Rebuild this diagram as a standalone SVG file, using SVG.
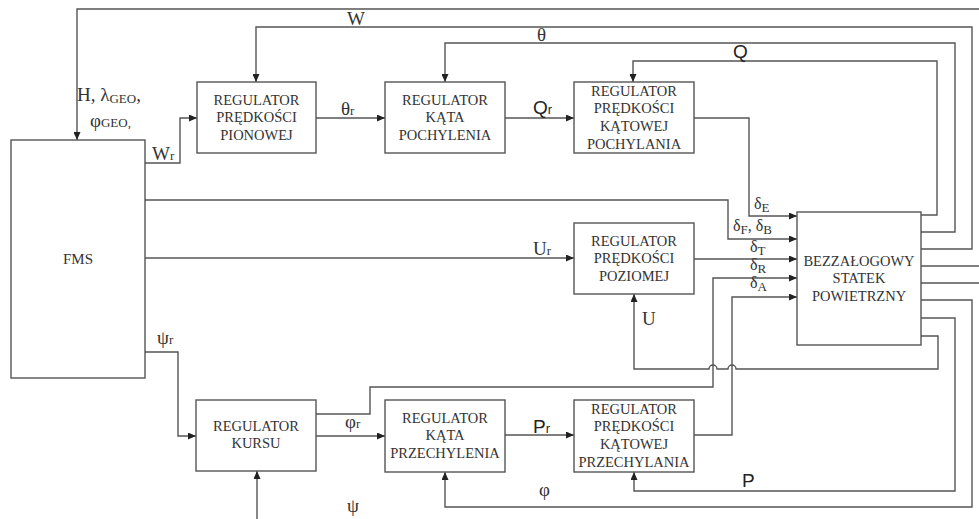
<svg xmlns="http://www.w3.org/2000/svg" width="979" height="519" viewBox="0 0 979 519">
<style>
.box{fill:#fff;stroke:#555;stroke-width:1.4}
.bt{font-family:"Liberation Serif","Times New Roman",Tinos,"DejaVu Serif",serif;font-size:14.5px;fill:#333;text-anchor:middle}
.ln{fill:none;stroke:#555;stroke-width:1.4}
.lb{font-family:"Liberation Serif","Times New Roman",Tinos,"DejaVu Serif",serif;font-size:19px;fill:#333}
.ls{font-family:"Liberation Sans",Arial,sans-serif;font-size:19px;fill:#222}
.sub{font-size:13px}
.d{font-family:"Liberation Serif","Times New Roman",Tinos,"DejaVu Serif",serif;font-size:16px;fill:#333}
</style>
<defs>
<marker id="ar" markerWidth="8" markerHeight="7" refX="8" refY="3.5" orient="auto" markerUnits="userSpaceOnUse">
<path d="M0,0 L8,3.5 L0,7 z" fill="#222"/>
</marker>
</defs>
<rect width="979" height="519" fill="#fff"/>
<g id="connectors">
<path class="ln" d="M979,9 H77 V140" marker-end="url(#ar)"/>
<path class="ln" d="M921,249 H972 V27 H256 V82" marker-end="url(#ar)"/>
<path class="ln" d="M921,232 H955 V43 H445 V82" marker-end="url(#ar)"/>
<path class="ln" d="M921,215 H937 V61 H633 V82" marker-end="url(#ar)"/>
<path class="ln" d="M145,163 H180 V118 H197" marker-end="url(#ar)"/>
<path class="ln" d="M316,118 H385" marker-end="url(#ar)"/>
<path class="ln" d="M505,118 H574" marker-end="url(#ar)"/>
<path class="ln" d="M694,118 H749 V216 H797" marker-end="url(#ar)"/>
<path class="ln" d="M145,200 H728 V239 H797" marker-end="url(#ar)"/>
<path class="ln" d="M145,258 H574" marker-end="url(#ar)"/>
<path class="ln" d="M694,259 H797" marker-end="url(#ar)"/>
<path class="ln" d="M316,414 H370 V387 H713 V278 H797" marker-end="url(#ar)"/>
<path class="ln" d="M694,435 H732 V297 H797" marker-end="url(#ar)"/>
<path class="ln" d="M921,336 H938 V369 H736 a4,4 0 0 0 -8,0 H717 a4,4 0 0 0 -8,0 H634 V294" marker-end="url(#ar)"/>
<path class="ln" d="M921,318 H955 V491 H634 V472" marker-end="url(#ar)"/>
<path class="ln" d="M921,300 H972 V507 H445 V472" marker-end="url(#ar)"/>
<path class="ln" d="M145,352 H178 V436 H196" marker-end="url(#ar)"/>
<path class="ln" d="M316,436 H385" marker-end="url(#ar)"/>
<path class="ln" d="M505,435 H574" marker-end="url(#ar)"/>
<path class="ln" d="M257,519 V471" marker-end="url(#ar)"/>
<path class="ln" d="M921,266 H979"/>
<path class="ln" d="M921,283 H979"/>
</g>
<g id="fms">
<rect class="box" x="11" y="140" width="134" height="238"/>
<text class="bt" x="78" y="264" style="font-size:15px">FMS</text>
</g>
<g id="reg-predkosci-pionowej">
<rect class="box" x="197" y="82" width="119" height="71"/>
<text class="bt" x="256.5" y="105">REGULATOR</text>
<text class="bt" x="256.5" y="122">PRĘDKOŚCI</text>
<text class="bt" x="256.5" y="140">PIONOWEJ</text>
</g>
<g id="reg-kata-pochylenia">
<rect class="box" x="385" y="82" width="120" height="71"/>
<text class="bt" x="445" y="105">REGULATOR</text>
<text class="bt" x="445" y="122">KĄTA</text>
<text class="bt" x="445" y="140">POCHYLENIA</text>
</g>
<g id="reg-predkosci-katowej-pochylania">
<rect class="box" x="574" y="82" width="120" height="71"/>
<text class="bt" x="634" y="96">REGULATOR</text>
<text class="bt" x="634" y="113">PRĘDKOŚCI</text>
<text class="bt" x="634" y="131">KĄTOWEJ</text>
<text class="bt" x="634" y="149">POCHYLANIA</text>
</g>
<g id="reg-predkosci-poziomej">
<rect class="box" x="574" y="223" width="120" height="71"/>
<text class="bt" x="634" y="246">REGULATOR</text>
<text class="bt" x="634" y="263">PRĘDKOŚCI</text>
<text class="bt" x="634" y="281">POZIOMEJ</text>
</g>
<g id="bezzalogowy-statek">
<rect class="box" x="797" y="212" width="124" height="133"/>
<text class="bt" x="859" y="266">BEZZAŁOGOWY</text>
<text class="bt" x="859" y="283">STATEK</text>
<text class="bt" x="859" y="301">POWIETRZNY</text>
</g>
<g id="reg-kursu">
<rect class="box" x="196" y="400" width="120" height="71"/>
<text class="bt" x="256" y="431">REGULATOR</text>
<text class="bt" x="256" y="448">KURSU</text>
</g>
<g id="reg-kata-przechylenia">
<rect class="box" x="385" y="400" width="120" height="72"/>
<text class="bt" x="445" y="423">REGULATOR</text>
<text class="bt" x="445" y="440">KĄTA</text>
<text class="bt" x="445" y="458">PRZECHYLENIA</text>
</g>
<g id="reg-predkosci-katowej-przechylania">
<rect class="box" x="574" y="400" width="120" height="72"/>
<text class="bt" x="634" y="414">REGULATOR</text>
<text class="bt" x="634" y="431">PRĘDKOŚCI</text>
<text class="bt" x="634" y="449">KĄTOWEJ</text>
<text class="bt" x="634" y="467">PRZECHYLANIA</text>
</g>
<g id="labels">
<text class="lb" x="77" y="101">H, λ<tspan class="sub" dy="2">GEO</tspan><tspan dy="-2">,</tspan></text>
<text class="lb" x="90" y="127">φ<tspan class="sub">GEO,</tspan></text>
<text class="lb" x="152" y="160">W<tspan class="sub">r</tspan></text>
<text class="lb" x="347" y="25">W</text>
<text class="lb" x="537" y="41">θ</text>
<text class="ls" x="733" y="58">Q</text>
<text class="lb" x="341" y="115">θ<tspan class="sub">r</tspan></text>
<text class="ls" x="533" y="114">Q<tspan style="font-size:13px">r</tspan></text>
<text class="lb" x="533" y="255">U<tspan class="sub">r</tspan></text>
<text class="lb" x="642" y="325">U</text>
<text class="lb" x="157" y="344">ψ<tspan class="sub">r</tspan></text>
<text class="lb" x="345" y="428">φ<tspan class="sub">r</tspan></text>
<text class="ls" x="533" y="433">P<tspan style="font-size:13px">r</tspan></text>
<text class="lb" x="347" y="512">ψ</text>
<text class="lb" x="539" y="496">φ</text>
<text class="ls" x="742" y="487">P</text>
<text class="d" x="754" y="209">δ<tspan class="sub" dy="3">E</tspan></text>
<text class="d" x="733" y="231">δ<tspan class="sub" dy="3">F</tspan><tspan dy="-3">, δ</tspan><tspan class="sub" dy="3">B</tspan></text>
<text class="d" x="750" y="252">δ<tspan class="sub" dy="3">T</tspan></text>
<text class="d" x="750" y="270">δ<tspan class="sub" dy="3">R</tspan></text>
<text class="d" x="750" y="288">δ<tspan class="sub" dy="3">A</tspan></text>
</g>
</svg>
